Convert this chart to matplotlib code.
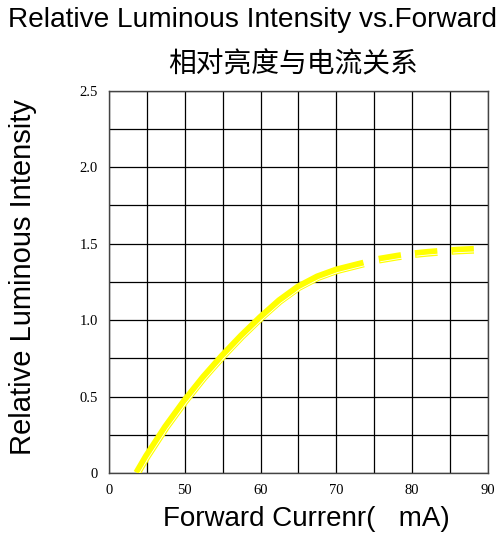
import matplotlib
matplotlib.use('Agg')
import matplotlib.pyplot as plt
import matplotlib.transforms as mtransforms
import numpy as np

# curve (forward current mA, relative intensity)
cur_solid = [43.7, 45, 47.5, 50, 52.5, 55, 57.5, 60, 62.5, 65, 67.5, 70, 73.6]
lum_solid = [0.0, 0.11, 0.30, 0.47, 0.625, 0.765, 0.895, 1.015, 1.125, 1.215, 1.28, 1.325, 1.37]
cur_dash = [75.6, 78, 80, 82, 84, 86, 88.3]
lum_dash = [1.395, 1.415, 1.43, 1.44, 1.448, 1.455, 1.46]

xticks = [40, 50, 60, 70, 80, 90]
xticklabels = ['0', '50', '60', '70', '80', '90']
yticks = [0, 0.5, 1.0, 1.5, 2.0, 2.5]
yticklabels = ['0', '0.5', '1.0', '1.5', '2.0', '2.5']

sans = ['Liberation Sans', 'Noto Sans CJK SC', 'DejaVu Sans']
cjk = ['Noto Sans CJK SC', 'DejaVu Sans']
serif = ['Liberation Serif', 'DejaVu Serif']

fig = plt.figure(figsize=(5.01, 5.35), dpi=100)
ax = fig.add_axes([0.2176, 0.1159, 0.7564, 0.7146])

ax.set_xlim(40, 90)
ax.set_ylim(0, 2.5)
ax.set_xticks(xticks)
ax.set_xticklabels(xticklabels, fontfamily=serif, fontsize=10.5)
ax.set_xticks(np.arange(40, 90.1, 5), minor=True)
ax.set_yticks(yticks)
ax.set_yticklabels(yticklabels, fontfamily=serif, fontsize=10.5)
ax.set_yticks(np.arange(0, 2.51, 0.25), minor=True)
ax.grid(True, which='both', color='black', linewidth=0.9)
ax.set_axisbelow(True)
ax.tick_params(which='both', length=0, pad=8)
for s in ax.spines.values():
    s.set_color('#444444')
    s.set_linewidth(1.0)

yel = '#ffff00'
ax.plot(cur_solid, lum_solid, color=yel, lw=5.6, solid_capstyle='butt',
        solid_joinstyle='round', zorder=3)
ax.plot(cur_dash, lum_dash, color=yel, lw=5.6, dashes=(2.9, 1.8),
        dash_capstyle='butt', zorder=3)
off = mtransforms.offset_copy(ax.transData, fig=fig, x=1.0, y=-1.5, units='points')
ax.plot(cur_solid, lum_solid, color='white', lw=0.6, transform=off, zorder=4)
ax.plot(cur_dash, lum_dash, color='white', lw=0.6, transform=off,
        dashes=(27, 17), zorder=4)

fig.text(0.503, 0.963, 'Relative Luminous Intensity vs.Forward', ha='center',
         va='center', fontsize=20.2, family=sans)
fig.text(0.584, 0.880, '相对亮度与电流关系', ha='center', va='center',
         fontsize=20, family=cjk)
fig.text(0.045, 0.482, 'Relative Luminous Intensity', rotation=90, ha='center',
         va='center', fontsize=21, family=sans)
fig.text(0.611, 0.030, 'Forward Currenr(   mA)', ha='center', va='center',
         fontsize=20, family=sans)

fig.savefig('out.png', dpi=100)
